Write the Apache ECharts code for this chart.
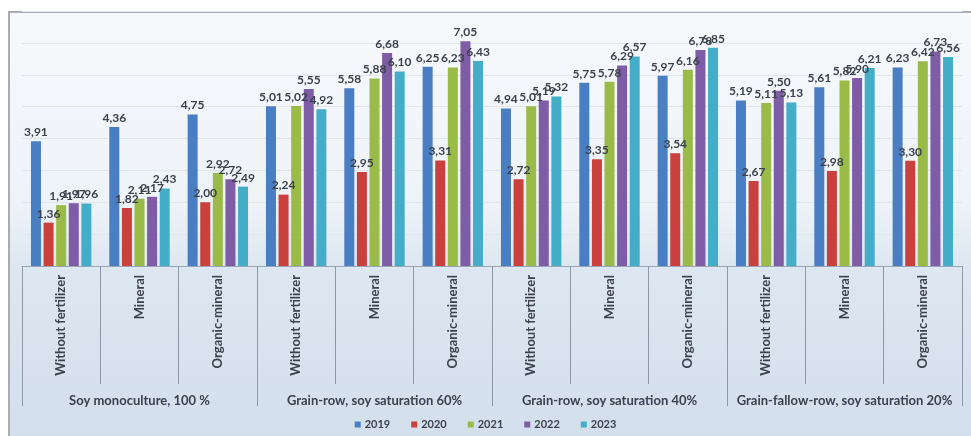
<!DOCTYPE html>
<html>
<head>
<meta charset="utf-8">
<script src="https://cdn.jsdelivr.net/npm/echarts@6/dist/echarts.min.js"></script>
<style>
  html, body { margin: 0; padding: 0; background: #ffffff; }
  #wrap {
    position: relative; width: 971px; height: 436px; overflow: hidden;
    background: #ffffff;
  }
  #frame {
    position: absolute; left: 8px; top: 11px; right: 0; bottom: 0;
    border-top: 2px solid #a9adb3; border-left: 2px solid #a9adb3;
    background: linear-gradient(to bottom, #f7f9fc 0%, #eef3f8 45%, #dde7f1 60%, #d3dfec 100%);
  }
  #chart { position: absolute; left: 0; top: 0; width: 971px; height: 436px; }
</style>
</head>
<body>
<div id="wrap">
  <div id="frame"></div>
  <div id="chart"></div>
</div>
<script>
// Fertilizer treatments within each rotation
const treatments = [
  'Without fertilizer', 'Mineral', 'Organic-mineral',
  'Without fertilizer', 'Mineral', 'Organic-mineral',
  'Without fertilizer', 'Mineral', 'Organic-mineral',
  'Without fertilizer', 'Mineral', 'Organic-mineral'
];
// Crop rotations (each spans three treatments)
const rotations = [
  'Soy monoculture, 100 %',
  'Grain-row, soy saturation 60%',
  'Grain-row, soy saturation 40%',
  'Grain-fallow-row, soy saturation 20%'
];
const years = ['2019', '2020', '2021', '2022', '2023'];

const y2019 = [3.91, 4.36, 4.75, 5.01, 5.58, 6.25, 4.94, 5.75, 5.97, 5.19, 5.61, 6.23];
const y2020 = [1.36, 1.82, 2.00, 2.24, 2.95, 3.31, 2.72, 3.35, 3.54, 2.67, 2.98, 3.30];
const y2021 = [1.91, 2.11, 2.92, 5.02, 5.88, 6.23, 5.01, 5.78, 6.16, 5.11, 5.82, 6.42];
const y2022 = [1.97, 2.17, 2.72, 5.55, 6.68, 7.05, 5.19, 6.29, 6.78, 5.50, 5.90, 6.73];
const y2023 = [1.96, 2.43, 2.49, 4.92, 6.10, 6.43, 5.32, 6.57, 6.85, 5.13, 6.21, 6.56];

const seriesValues = [y2019, y2020, y2021, y2022, y2023];
const colors = ['#4a7ec2', '#c9403c', '#9bbb48', '#7f5ca6', '#44aec8'];

const FONT = 'Lato, "Open Sans", sans-serif';
const TEXT = '#3c424b';

const chart = echarts.init(document.getElementById('chart'), null, { renderer: 'canvas' });

const series = years.map((y, i) => ({
  name: y,
  type: 'bar',
  xAxisIndex: 0,
  data: seriesValues[i],
  barWidth: 10,
  barGap: '26%',
  itemStyle: { color: colors[i] },
  label: {
    show: true,
    position: 'top',
    distance: 3,
    fontFamily: FONT,
    fontWeight: 'bold',
    fontSize: 12,
    color: TEXT,
    formatter: p => p.value.toFixed(2).replace('.', ',')
  },
  labelLayout: { moveOverlap: 'shiftY' }
}));

chart.setOption({
  backgroundColor: 'transparent',
  animation: false,
  color: colors,
  grid: { left: 22, right: 9, top: 11, bottom: 170, containLabel: false },
  legend: {
    bottom: 1,
    left: 'center',
    itemWidth: 6,
    itemHeight: 6,
    itemGap: 21,
    icon: 'rect',
    textStyle: { fontFamily: FONT, fontSize: 11, fontWeight: 'bold', color: TEXT, padding: [0, 0, 0, -1] },
    data: years
  },
  xAxis: [
    {
      type: 'category',
      data: treatments,
      position: 'bottom',
      axisLine: { show: true, lineStyle: { color: '#9aa6b6', width: 1 } },
      axisTick: { show: true, interval: 0, length: 118, lineStyle: { color: '#8e98a6' } },
      axisLabel: {
        interval: 0,
        rotate: 90,
        margin: 9,
        fontFamily: FONT,
        fontWeight: 'bold',
        fontSize: 13,
        color: TEXT
      },
      splitLine: { show: false }
    },
    {
      type: 'category',
      data: rotations,
      position: 'bottom',
      offset: 0,
      axisLine: { show: false },
      axisTick: { show: true, interval: 0, length: 140, lineStyle: { color: '#8e98a6' } },
      axisLabel: {
        interval: 0,
        margin: 128,
        fontFamily: FONT,
        fontWeight: 'bold',
        fontSize: 13,
        color: TEXT
      },
      splitLine: { show: false }
    }
  ],
  yAxis: {
    type: 'value',
    min: 0,
    max: 8,
    interval: 1,
    axisLine: { show: false },
    axisTick: { show: false },
    axisLabel: { show: false },
    splitLine: { show: true, lineStyle: { color: '#e1e6ec', width: 1 } }
  },
  series: series
});
</script>
</body>
</html>
